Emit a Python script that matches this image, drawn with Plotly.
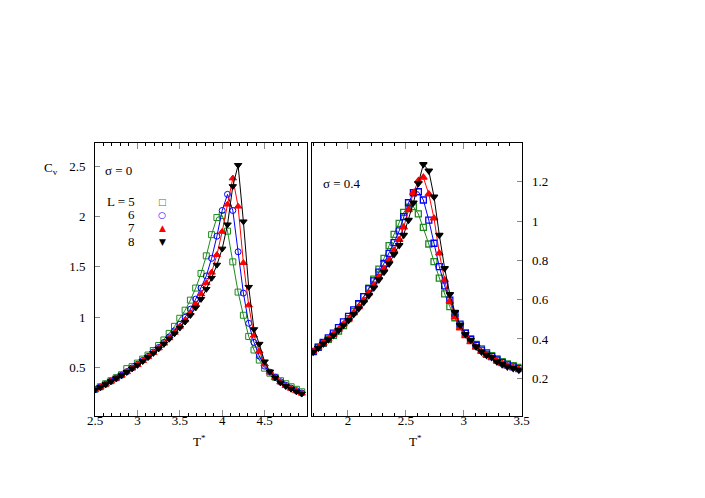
import plotly.graph_objects as go

# ---------------- data ----------------
# sigma = 0 panel
T_s0 = [2.5, 2.5625, 2.625, 2.6875, 2.75, 2.8125, 2.875, 2.9375, 3.0, 3.0625,
        3.125, 3.1875, 3.25, 3.3125, 3.375, 3.4375, 3.5, 3.5625, 3.625, 3.6875,
        3.75, 3.8125, 3.875, 3.9375, 4.0, 4.0625, 4.125, 4.1875, 4.25, 4.3125,
        4.375, 4.4375, 4.5, 4.5625, 4.625, 4.6875, 4.75, 4.8125, 4.875, 4.9375]
cv_s0_L5 = [0.285, 0.31, 0.34, 0.37, 0.40, 0.43, 0.49, 0.51, 0.545, 0.585,
            0.625, 0.67, 0.72, 0.775, 0.84, 0.91, 0.99, 1.07, 1.17, 1.29,
            1.435, 1.61, 1.82, 1.99, 2.01, 1.855, 1.55, 1.25, 1.02, 0.81,
            0.675, 0.575, 0.495, 0.445, 0.405, 0.37, 0.34, 0.31, 0.285, 0.26]
cv_s0_L6 = [0.282, 0.307, 0.336, 0.366, 0.396, 0.425, 0.46, 0.497, 0.533, 0.572,
            0.612, 0.655, 0.70, 0.75, 0.805, 0.865, 0.93, 1.0, 1.08, 1.18,
            1.29, 1.41, 1.585, 1.805, 2.06, 2.22, 2.06, 1.65, 1.24, 0.94,
            0.75, 0.615, 0.515, 0.455, 0.405, 0.36, 0.325, 0.297, 0.272, 0.248]
cv_s0_L7 = [0.281, 0.306, 0.334, 0.364, 0.394, 0.423, 0.457, 0.493, 0.528, 0.567,
            0.606, 0.648, 0.693, 0.74, 0.793, 0.848, 0.908, 0.972, 1.045, 1.13,
            1.23, 1.34, 1.445, 1.62, 1.85, 2.12, 2.38, 2.10, 1.54, 1.12,
            0.82, 0.665, 0.535, 0.455, 0.40, 0.355, 0.32, 0.292, 0.267, 0.244]
cv_s0_L8 = [0.280, 0.305, 0.333, 0.363, 0.393, 0.422, 0.455, 0.490, 0.525, 0.563,
            0.602, 0.643, 0.688, 0.733, 0.785, 0.838, 0.895, 0.955, 1.020, 1.095,
            1.180, 1.280, 1.390, 1.520, 1.680, 1.920, 2.300, 2.510, 1.950, 1.300,
            0.880, 0.735, 0.560, 0.460, 0.400, 0.350, 0.315, 0.288, 0.262, 0.240]

# sigma = 0.4 panel
T_s4 = [1.700, 1.744, 1.787, 1.831, 1.875, 1.919, 1.962, 2.006, 2.050, 2.093,
        2.137, 2.181, 2.224, 2.268, 2.312, 2.356, 2.399, 2.443, 2.482, 2.524,
        2.566, 2.609, 2.652, 2.699, 2.744, 2.790, 2.836, 2.881, 2.925, 2.969,
        3.015, 3.060, 3.108, 3.154, 3.198, 3.242, 3.288, 3.333, 3.378, 3.428, 3.477]
cv_s4_L5 = [0.337, 0.357, 0.378, 0.398, 0.418, 0.44, 0.468, 0.503, 0.539, 0.576,
            0.615, 0.658, 0.704, 0.755, 0.81, 0.875, 0.932, 0.988, 1.044, 1.07,
            1.073, 1.036, 0.968, 0.883, 0.793, 0.709, 0.629, 0.564, 0.508, 0.465,
            0.43, 0.40, 0.372, 0.35, 0.33, 0.315, 0.298, 0.285, 0.273, 0.264, 0.255]
cv_s4_L6 = [0.336, 0.358, 0.382, 0.405, 0.43, 0.458, 0.487, 0.515, 0.548, 0.58,
            0.615, 0.655, 0.695, 0.74, 0.785, 0.835, 0.89, 0.95, 1.022, 1.093,
            1.144, 1.149, 1.107, 1.005, 0.887, 0.768, 0.67, 0.598, 0.53, 0.475,
            0.43, 0.398, 0.368, 0.343, 0.323, 0.31, 0.293, 0.28, 0.268, 0.258, 0.249]
cv_s4_L7 = [0.335, 0.356, 0.378, 0.40, 0.423, 0.448, 0.475, 0.50, 0.532, 0.563,
            0.597, 0.633, 0.673, 0.715, 0.757, 0.80, 0.85, 0.905, 0.968, 1.056,
            1.144, 1.205, 1.222, 1.137, 1.014, 0.836, 0.70, 0.59, 0.51, 0.455,
            0.415, 0.385, 0.357, 0.335, 0.318, 0.304, 0.288, 0.275, 0.263, 0.254, 0.245]
cv_s4_L8 = [0.334, 0.354, 0.376, 0.397, 0.419, 0.444, 0.47, 0.495, 0.526, 0.555,
            0.587, 0.622, 0.661, 0.702, 0.741, 0.783, 0.831, 0.877, 0.929, 1.005,
            1.093, 1.192, 1.289, 1.256, 1.124, 0.929, 0.76, 0.627, 0.536, 0.471,
            0.424, 0.395, 0.361, 0.335, 0.318, 0.307, 0.284, 0.271, 0.259, 0.251, 0.242]

L_labels = ["L = 5", "6", "7", "8"]
colors = ["#1f8a1f", "#0000ff", "#ff0000", "#000000"]
symbols_s0 = ["square-open", "circle-open", "triangle-up", "triangle-down"]
symbols_s4 = ["square-open", "square-open", "triangle-up", "triangle-down"]
legend_glyphs = ["□", "○", "▲", "▼"]

x_ticks_s0 = [2.5, 3, 3.5, 4, 4.5]
y_ticks_s0 = [0.5, 1, 1.5, 2, 2.5]
x_ticks_s4 = [2, 2.5, 3, 3.5]
y_ticks_s4 = [0.2, 0.4, 0.6, 0.8, 1.0, 1.2]

W, H = 705, 498
def px(x):
    return x / W
def py(y):
    return 1 - y / H

FONT = "Liberation Serif"

fig = go.Figure()

series_s0 = [cv_s0_L5, cv_s0_L6, cv_s0_L7, cv_s0_L8]
series_s4 = [cv_s4_L5, cv_s4_L6, cv_s4_L7, cv_s4_L8]
msize = [6, 6, 6.5, 6.5]

for i, ys in enumerate(series_s0):
    fig.add_trace(go.Scatter(
        x=T_s0, y=ys, mode="lines+markers", xaxis="x", yaxis="y",
        line=dict(color=colors[i], width=1),
        marker=dict(symbol=symbols_s0[i], size=msize[i],
                    color=colors[i], line=dict(color=colors[i], width=1)),
        showlegend=False, cliponaxis=True, hoverinfo="skip"))

for i, ys in enumerate(series_s4):
    fig.add_trace(go.Scatter(
        x=T_s4, y=ys, mode="lines+markers", xaxis="x2", yaxis="y2",
        line=dict(color=colors[i], width=1),
        marker=dict(symbol=symbols_s4[i], size=msize[i],
                    color=colors[i], line=dict(color=colors[i], width=1.3)),
        showlegend=False, cliponaxis=True, hoverinfo="skip"))

ydom = [py(416), py(143)]
axis_common = dict(showline=True, linecolor="black", linewidth=1,
                   ticks="inside", showgrid=False, zeroline=False,
                   automargin=False,
                   tickfont=dict(family=FONT, size=13, color="black"))

fig.update_layout(
    template="none",
    font=dict(family=FONT, size=13, color="black"),
    width=W, height=H, margin=dict(l=0, r=0, t=0, b=0, pad=0),
    paper_bgcolor="white", plot_bgcolor="white",
    xaxis=dict(domain=[px(95), px(307)], range=[2.5, 5.0], anchor="y",
               tickvals=x_ticks_s0, ticklen=6, tickcolor="#888", mirror="ticks",
               ticklabelstandoff=-8,
               minor=dict(dtick=0.1, ticks="inside", ticklen=3, tickcolor="black"),
               **axis_common),
    yaxis=dict(domain=ydom, range=[0.02, 2.73], anchor="x", mirror=True,
               tickvals=y_ticks_s0, ticklen=5, tickcolor="#888",
               ticklabelstandoff=6,
               **axis_common),
    xaxis2=dict(domain=[px(312), px(521.5)], range=[1.69, 3.5], anchor="y2",
                tickvals=x_ticks_s4, ticklen=6, tickcolor="#888", mirror="ticks",
                ticklabelstandoff=-8,
                minor=dict(dtick=0.1, ticks="inside", ticklen=3, tickcolor="black"),
                **axis_common),
    yaxis2=dict(domain=ydom, range=[0.008, 1.397], anchor="x2", side="right",
                mirror=True, tickvals=y_ticks_s4, ticklen=5, tickcolor="#888",
                ticklabelstandoff=7,
                **axis_common),
)

ann = []
def text(x, y, s, xa="left", size=13, color="black", family=FONT, h=None):
    d = dict(x=px(x), y=py(y), xref="paper", yref="paper", text=s,
             showarrow=False, xanchor=xa, yanchor="middle",
             font=dict(family=family, size=size, color=color))
    if h is not None:
        d["height"] = h
        d["borderpad"] = 0
    ann.append(d)

text(103, 170, "σ = 0")
text(321, 183, "σ = 0.4")
legend_y = [201, 214, 227.5, 241]
for i, lab in enumerate(L_labels):
    text(136, legend_y[i], lab, xa="right", h=11)
    text(162, legend_y[i], legend_glyphs[i], xa="center", size=9,
         color=colors[i], family="DejaVu Sans", h=11)
text(51, 168, "C<sub>v</sub>", xa="center")
text(199, 441, "T<sup>*</sup>", xa="center")
text(415, 441, "T<sup>*</sup>", xa="center")

fig.update_layout(annotations=ann)
fig.write_html("out.html", config={"displayModeBar": False},
               post_script="document.body.style.margin='0';document.body.style.overflow='hidden';")
